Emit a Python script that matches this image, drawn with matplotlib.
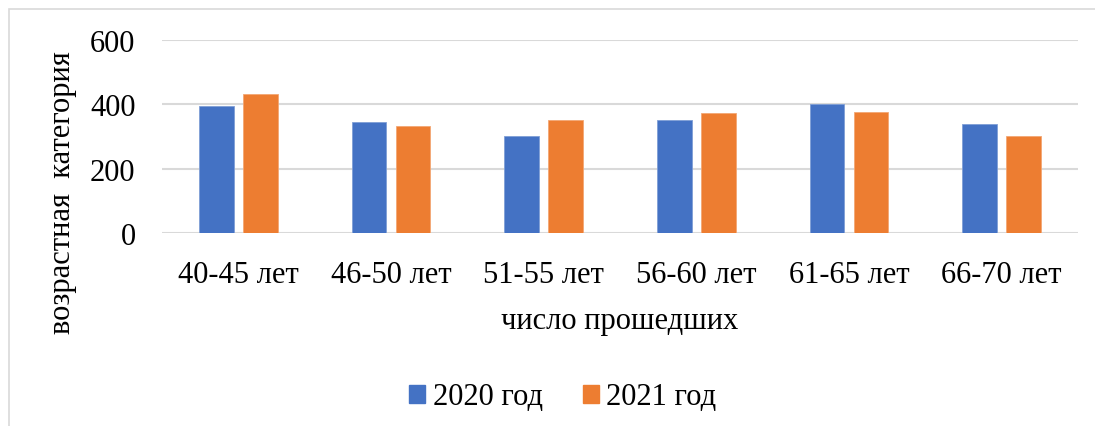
import matplotlib.pyplot as plt
from matplotlib.patches import Rectangle, Patch
import numpy as np

plt.rcParams['font.family'] = ['Liberation Serif', 'DejaVu Serif']

categories = ['40-45 лет', '46-50 лет', '51-55 лет', '56-60 лет', '61-65 лет', '66-70 лет']
y2020 = [396, 345, 303, 351, 400, 339]
y2021 = [432, 333, 351, 373, 378, 301]
series_names = ['2020 год', '2021 год']
blue = '#4472C4'
orange = '#ED7D31'

W, H = 1095, 427
fig = plt.figure(figsize=(W / 100, H / 100), dpi=100)

# outer chart frame (cut at the right and bottom edges)
fig.patches.append(Rectangle((9 / W, -0.05), 1.1, 1 - 10 / H + 0.05, transform=fig.transFigure,
                             fill=False, edgecolor='#D9D9D9', lw=1.2))

ax = fig.add_axes([162 / W, 1 - 234.3 / H, (1078 - 162) / W, (234.3 - 41) / H])

x = np.arange(len(categories))
bw = 0.226
off = 0.144
ax.bar(x - off, y2020, bw, color=blue, edgecolor='#7F9ED6', lw=0.6, zorder=3)
ax.bar(x + off, y2021, bw, color=orange, edgecolor='#F3A774', lw=0.6, zorder=3)

ax.set_xlim(-0.5, len(categories) - 0.5)
ax.set_ylim(0, 600)
ax.set_yticks([0, 200, 400, 600])
ax.set_xticks(x)
ax.set_xticklabels(categories)
ax.tick_params(axis='both', length=0, labelsize=22, colors='black')
ax.tick_params(axis='y', pad=19)
ax.tick_params(axis='x', pad=19)
ax.grid(axis='y', color='#D9D9D9', lw=1.5, zorder=0)
for s in ax.spines.values():
    s.set_visible(False)

fig.text(620 / W, 1 - 322 / H, 'число прошедших', ha='center', va='center', fontsize=22)
fig.text(63 / W, 1 - 193 / H, 'возрастная  категория', ha='center', va='center',
         rotation=90, fontsize=22)

handles = [Patch(color=blue), Patch(color=orange)]
fig.legend(handles, series_names, loc='center', bbox_to_anchor=(563 / W, 1 - 398 / H),
           ncol=2, frameon=False, fontsize=22, handlelength=0.52, handleheight=0.52,
           handletextpad=0.25, columnspacing=1.3)

fig.savefig('out.png', dpi=100)
